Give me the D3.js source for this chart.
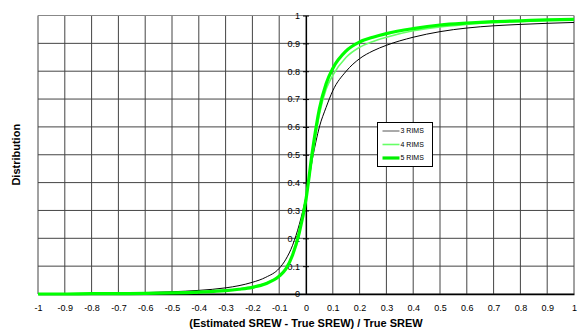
<!DOCTYPE html>
<html>
<head>
<meta charset="utf-8">
<script src="https://cdn.jsdelivr.net/npm/d3@7"></script>
<style>
  html, body { margin: 0; padding: 0; background: #fff; }
  svg { display: block; font-family: "Liberation Sans", Arial, sans-serif; }
</style>
</head>
<body>
<svg id="chart" width="579" height="334"></svg>
<script>
// Relative SREW error sample points
const errorPoints = [-1, -0.9, -0.8, -0.7, -0.6, -0.5, -0.4, -0.3, -0.25, -0.2, -0.15, -0.1, -0.075, -0.05, -0.025,
  0, 0.025, 0.05, 0.075, 0.1, 0.15, 0.2, 0.25, 0.3, 0.4, 0.5, 0.6, 0.7, 0.8, 0.9, 1];

// Cumulative distribution for each RIMS configuration
const rims3 = [0, 0.001, 0.002, 0.003, 0.005, 0.008, 0.013, 0.022, 0.03, 0.042, 0.06, 0.092, 0.125, 0.175, 0.25,
  0.35, 0.49, 0.6, 0.67, 0.73, 0.8, 0.845, 0.873, 0.893, 0.922, 0.942, 0.955, 0.963, 0.968, 0.972, 0.975];
const rims4 = [0, 0, 0.001, 0.001, 0.002, 0.004, 0.007, 0.013, 0.018, 0.026, 0.039, 0.066, 0.092, 0.142, 0.222,
  0.34, 0.5, 0.645, 0.735, 0.785, 0.85, 0.886, 0.907, 0.922, 0.945, 0.959, 0.968, 0.975, 0.979, 0.982, 0.984];
const rims5 = [0, 0, 0.001, 0.001, 0.002, 0.004, 0.007, 0.012, 0.017, 0.024, 0.037, 0.064, 0.09, 0.14, 0.22,
  0.34, 0.52, 0.665, 0.755, 0.81, 0.873, 0.905, 0.922, 0.935, 0.953, 0.966, 0.973, 0.978, 0.981, 0.984, 0.986];

const seriesNames = ["3 RIMS", "4 RIMS", "5 RIMS"];
const xTicks = d3.range(-10, 11).map(i => i / 10);
const yTicks = d3.range(0, 11).map(i => i / 10);

const styles = [
  { color: "#000000", width: 1, legendColor: "#555555" },
  { color: "#66ff66", width: 1.6, legendColor: "#66ff66" },
  { color: "#00ff00", width: 3.2, legendColor: "#00ee00" }
];

// plain hyphen-minus tick labels
const tickText = d => String(Math.round(d * 10) / 10);

const svg = d3.select("#chart");
const margin = { left: 38, right: 5, top: 15.5, bottom: 40 };
const W = 579, H = 334;

const x = d3.scaleLinear().domain([-1, 1]).range([margin.left, W - margin.right]);
const y = d3.scaleLinear().domain([0, 1]).range([H - margin.bottom, margin.top]);

// grid
const grid = svg.append("g").attr("stroke", "#444").attr("stroke-width", 1);
grid.selectAll("line.v").data(xTicks).join("line")
  .attr("x1", d => x(d)).attr("x2", d => x(d))
  .attr("y1", y(0)).attr("y2", y(1));
grid.selectAll("line.h").data(yTicks).join("line")
  .attr("x1", x(-1)).attr("x2", x(1))
  .attr("y1", d => y(d)).attr("y2", d => y(d));
// frame top slightly lighter
svg.append("line").attr("x1", x(-1)).attr("x2", x(1)).attr("y1", y(1)).attr("y2", y(1))
  .attr("stroke", "#888").attr("stroke-width", 1.2);

// x axis along the bottom
const xAxis = svg.append("g")
  .attr("transform", `translate(0,${y(0)})`)
  .call(d3.axisBottom(x).tickValues(xTicks).tickSize(0).tickPadding(11).tickFormat(tickText));
xAxis.select(".domain").attr("stroke", "#000").attr("stroke-width", 1.4);
xAxis.selectAll("text").attr("font-size", 9).attr("fill", "#000");

// y axis through zero
const yAxis = svg.append("g")
  .attr("transform", `translate(${x(0)},0)`)
  .call(d3.axisLeft(y).tickValues(yTicks).tickSizeInner(4).tickSizeOuter(0).tickPadding(2)
    .tickFormat(tickText));
yAxis.select(".domain").attr("stroke", "#000").attr("stroke-width", 1.2);
yAxis.selectAll(".tick line").attr("x2", 3).attr("x1", -3).attr("stroke", "#000");
yAxis.selectAll("text").attr("font-size", 9).attr("fill", "#000");

// curves
const line = d3.line().x(d => x(d[0])).y(d => y(d[1])).curve(d3.curveMonotoneX);
[rims3, rims4, rims5].forEach((vals, i) => {
  svg.append("path")
    .datum(errorPoints.map((e, j) => [e, vals[j]]))
    .attr("fill", "none")
    .attr("stroke", styles[i].color)
    .attr("stroke-width", styles[i].width)
    .attr("stroke-linejoin", "round")
    .attr("d", line);
});

// legend
const lg = svg.append("g").attr("transform", "translate(377.5,122.5)");
lg.append("rect").attr("width", 55).attr("height", 44)
  .attr("fill", "#fff").attr("stroke", "#000").attr("stroke-width", 1);
seriesNames.forEach((name, i) => {
  const yy = 8.5 + i * 13.5;
  lg.append("line").attr("x1", 5).attr("x2", 22).attr("y1", yy).attr("y2", yy)
    .attr("stroke", styles[i].legendColor).attr("stroke-width", styles[i].width);
  lg.append("text").attr("x", 23).attr("y", yy).attr("dy", "0.35em")
    .attr("font-size", 7).text(name);
});

// axis titles
svg.append("text")
  .attr("x", x(0)).attr("y", 327)
  .attr("text-anchor", "middle").attr("font-size", 11).attr("font-weight", "bold")
  .text("(Estimated SREW - True SREW) / True SREW");
svg.append("text")
  .attr("transform", `translate(20,${(y(0) + y(1)) / 2}) rotate(-90)`)
  .attr("text-anchor", "middle").attr("font-size", 11).attr("font-weight", "bold")
  .text("Distribution");
</script>
</body>
</html>
